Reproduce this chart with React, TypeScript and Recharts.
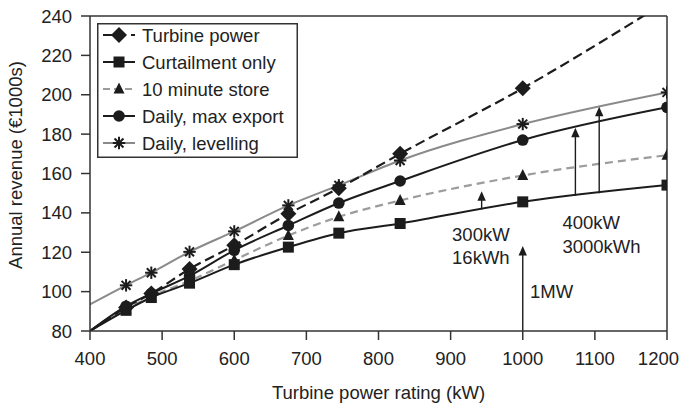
import React from 'react';
import {
  LineChart, Line, XAxis, YAxis, ReferenceLine, ReferenceDot, Legend, Label,
} from 'recharts';

// ---- data ----
const powerRatings = [400, 450, 485, 538, 600, 675, 745, 830, 1000, 1200];
const turbinePower = [80, 92, 99, 111.5, 123.5, 139.5, 152.5, 170, 203.3, 247.5];
const curtailmentOnly = [80, 90.5, 97, 104.3, 113.7, 122.6, 129.7, 134.6, 145.6, 154.1];
const tenMinuteStore = [80, 91, 97.5, 105.5, 116, 128.5, 138, 146.3, 159, 169.3];
const dailyMaxExport = [80, 92.6, 99, 108, 121, 133.6, 145, 156.2, 177, 193.6];
const dailyLevelling = [93.5, 103.2, 109.6, 120.2, 130.6, 143.8, 154, 166.6, 185.1, 201.2];

const xTicks = [400, 500, 600, 700, 800, 900, 1000, 1100, 1200];
const yTicks = [80, 100, 120, 140, 160, 180, 200, 220, 240];

// arrows: rating, from value, to value (tip)
const arrowRatings = [943, 1000, 1073, 1106];
const arrowFrom = [141.8, 80, 148.6, 150];
const arrowTo = [151, 123.2, 183.2, 193.9];

// annotation texts anchored in data units
const noteTexts = ['300kW', '16kWh', '400kW', '3000kWh', '1MW'];
const noteRatings = [902, 902, 1055, 1055, 1010];
const noteValues = [125.5, 114, 131.6, 119.4, 97];

const seriesNames = ['Turbine power', 'Curtailment only', '10 minute store', 'Daily, max export', 'Daily, levelling'];

const rows = powerRatings.map((r, i) => ({
  rating: r,
  turbine: turbinePower[i],
  curtail: curtailmentOnly[i],
  tenmin: tenMinuteStore[i],
  maxexp: dailyMaxExport[i],
  level: dailyLevelling[i],
}));

const WIDTH = 681;
const HEIGHT = 405;
const FONT = '"Liberation Sans", Arial, Helvetica, sans-serif';
const FONT_SIZE = 18.5;
const BLACK = '#1c1c1c';
const AXIS = '#333333';
const GRAY_SOLID = '#8a8a8a';
const GRAY_DASH = '#9c9c9c';

type Shape = 'diamond' | 'square' | 'triangle' | 'circle' | 'star';

function Marker({ shape, cx, cy }: { shape: Shape; cx: number; cy: number }) {
  switch (shape) {
    case 'diamond':
      return <polygon points={`${cx},${cy - 8} ${cx + 8},${cy} ${cx},${cy + 8} ${cx - 8},${cy}`} fill={BLACK} />;
    case 'square':
      return <rect x={cx - 5.5} y={cy - 5.5} width={11} height={11} fill={BLACK} />;
    case 'triangle':
      return <polygon points={`${cx},${cy - 6.5} ${cx + 5.5},${cy + 4.5} ${cx - 5.5},${cy + 4.5}`} fill={BLACK} />;
    case 'circle':
      return <circle cx={cx} cy={cy} r={5.8} fill={BLACK} />;
    case 'star': {
      const h = 6.2;
      const d = h * 0.72;
      return (
        <g stroke={BLACK} strokeWidth={2}>
          <line x1={cx} y1={cy - h} x2={cx} y2={cy + h} />
          <line x1={cx - h} y1={cy} x2={cx + h} y2={cy} />
          <line x1={cx - d} y1={cy - d} x2={cx + d} y2={cy + d} />
          <line x1={cx - d} y1={cy + d} x2={cx + d} y2={cy - d} />
        </g>
      );
    }
  }
  return null;
}

const makeDot = (shape: Shape) => (props: any) => {
  const { cx, cy, payload, index } = props;
  if (payload.rating === 400 || cx == null || cy == null) return <g key={`d-${shape}-${index}`} />;
  return (
    <g key={`d-${shape}-${index}`}>
      <Marker shape={shape} cx={cx} cy={cy} />
    </g>
  );
};

const legendItems: { name: string; shape: Shape; color: string; dash?: string }[] = [
  { name: seriesNames[0], shape: 'diamond', color: BLACK, dash: '9 5' },
  { name: seriesNames[1], shape: 'square', color: BLACK },
  { name: seriesNames[2], shape: 'triangle', color: GRAY_DASH, dash: '7 4' },
  { name: seriesNames[3], shape: 'circle', color: BLACK },
  { name: seriesNames[4], shape: 'star', color: GRAY_SOLID },
];

const LegendBox = () => (
  <svg width={201} height={135} style={{ display: 'block' }}>
    <rect x={0.75} y={0.75} width={199.5} height={133.5} fill="#fff" stroke={AXIS} strokeWidth={1.5} />
    {legendItems.map((it, i) => {
      const cy = 12 + i * 27;
      return (
        <g key={it.name}>
          <line x1={6} y1={cy} x2={38} y2={cy} stroke={it.color} strokeWidth={2} strokeDasharray={it.dash} />
          <Marker shape={it.shape} cx={22} cy={cy} />
          <text x={45} y={cy + 6.5} fontFamily={FONT} fontSize={FONT_SIZE} fill="#222">{it.name}</text>
        </g>
      );
    })}
  </svg>
);

const ArrowShape = (props: any) => {
  const { x1, y1, x2, y2 } = props;
  return (
    <g>
      <line x1={x1} y1={y1} x2={x2} y2={y2 + 6} stroke={BLACK} strokeWidth={1.4} />
      <polygon points={`${x2},${y2} ${x2 + 4.2},${y2 + 9.5} ${x2 - 4.2},${y2 + 9.5}`} fill={BLACK} />
    </g>
  );
};

const XTitle = (props: any) => {
  const vb = props.viewBox;
  return (
    <text x={vb.x + vb.width / 2} y={vb.y + vb.height - 6} textAnchor="middle" fontFamily={FONT} fontSize={FONT_SIZE} fill="#222">
      Turbine power rating (kW)
    </text>
  );
};

const YTitle = (props: any) => {
  const vb = props.viewBox;
  const x = vb.x + 21.5;
  const y = vb.y + vb.height / 2 - 8.5;
  return (
    <text x={x} y={y} textAnchor="middle" transform={`rotate(-90, ${x}, ${y})`} fontFamily={FONT} fontSize={FONT_SIZE} fill="#222">
      Annual revenue (€1000s)
    </text>
  );
};

// x tick label kept inside the picture's right edge
const XTick = (props: any) => {
  const { x, y, payload } = props;
  const label = String(payload.value);
  const half = (label.length * 0.556 * FONT_SIZE) / 2;
  const cx = Math.min(x, WIDTH - 2 - half);
  return (
    <text x={cx} y={y} dy="0.71em" textAnchor="middle" fontFamily={FONT} fontSize={FONT_SIZE} fill="#222">
      {label}
    </text>
  );
};

const tickStyle = { fill: '#222', fontSize: FONT_SIZE, fontFamily: FONT };

export default function App() {
  return (
    <div style={{ position: 'absolute', left: 0, top: 0, width: WIDTH, height: HEIGHT, background: '#fff' }}>
      <LineChart width={WIDTH} height={HEIGHT} data={rows} margin={{ top: 16, right: 14, bottom: 0, left: 0 }}>
        <XAxis
          dataKey="rating"
          type="number"
          domain={[400, 1200]}
          ticks={xTicks}
          allowDataOverflow
          height={74}
          tickSize={9}
          tickMargin={12}
          tick={XTick}
          axisLine={{ stroke: AXIS, strokeWidth: 1.5 }}
          tickLine={{ stroke: AXIS, strokeWidth: 1.5 }}
        >
          <Label content={XTitle} />
        </XAxis>
        <YAxis
          type="number"
          domain={[80, 240]}
          ticks={yTicks}
          allowDataOverflow
          width={90}
          tickSize={9}
          tickMargin={9}
          tick={tickStyle}
          axisLine={{ stroke: AXIS, strokeWidth: 1.5 }}
          tickLine={{ stroke: AXIS, strokeWidth: 1.5 }}
        >
          <Label content={YTitle} />
        </YAxis>
        <ReferenceLine y={240} stroke={AXIS} strokeWidth={1.5} />
        <ReferenceLine x={1200} stroke={AXIS} strokeWidth={1.5} />

        <Line type="monotone" dataKey="level" name={seriesNames[4]} stroke={GRAY_SOLID} strokeWidth={2}
          dot={makeDot('star')} activeDot={false} isAnimationActive={false} />
        <Line type="monotone" dataKey="tenmin" name={seriesNames[2]} stroke={GRAY_DASH} strokeWidth={2.2} strokeDasharray="8 5"
          dot={makeDot('triangle')} activeDot={false} isAnimationActive={false} />
        <Line type="monotone" dataKey="curtail" name={seriesNames[1]} stroke={BLACK} strokeWidth={2}
          dot={makeDot('square')} activeDot={false} isAnimationActive={false} />
        <Line type="monotone" dataKey="maxexp" name={seriesNames[3]} stroke={BLACK} strokeWidth={2}
          dot={makeDot('circle')} activeDot={false} isAnimationActive={false} />
        <Line type="monotone" dataKey="turbine" name={seriesNames[0]} stroke={BLACK} strokeWidth={2.2} strokeDasharray="10 5"
          dot={makeDot('diamond')} activeDot={false} isAnimationActive={false} />

        {arrowRatings.map((r, i) => (
          <ReferenceLine
            key={`arrow-${i}`}
            segment={[{ x: r, y: arrowFrom[i] }, { x: r, y: arrowTo[i] }]}
            ifOverflow="visible"
            shape={ArrowShape}
          />
        ))}
        {noteTexts.map((t, i) => (
          <ReferenceDot
            key={`note-${i}`}
            x={noteRatings[i]}
            y={noteValues[i]}
            r={0}
            ifOverflow="visible"
            shape={(p: any) => (
              <text x={p.cx} y={p.cy} fontFamily={FONT} fontSize={FONT_SIZE} fill="#222">{t}</text>
            )}
          />
        ))}
        <Legend
          layout="vertical"
          align="center"
          verticalAlign="middle"
          content={LegendBox}
          wrapperStyle={{ position: 'absolute', left: 97, top: 23, width: 201, height: 135, margin: 0, padding: 0 }}
        />
      </LineChart>
    </div>
  );
}
